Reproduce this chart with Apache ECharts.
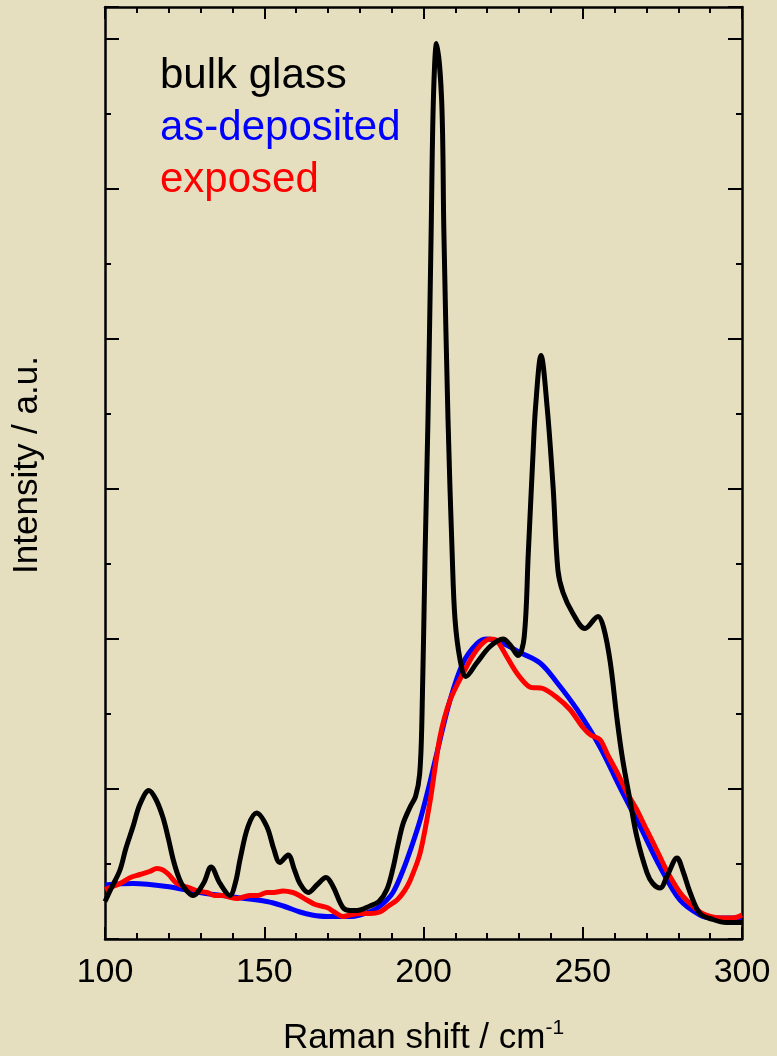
<!DOCTYPE html>
<html>
<head>
<meta charset="utf-8">
<script src="https://cdn.jsdelivr.net/npm/echarts@6/dist/echarts.min.js"></script>
<style>
html,body{margin:0;padding:0;background:#e6dfbf;}
#chart{width:777px;height:1056px;}
</style>
</head>
<body>
<div id="chart"></div>
<script>
// Raman shift (cm^-1) / intensity (a.u., arbitrary units) pairs
const bulkX = [100,102,104.7,106.5,108.8,111,113.8,116,118.2,120,121.4,123,124.6,127.6,130.9,133.3,136.1,139.2,141,142.4,144.9,147.6,150.8,153,154.9,157.5,159.5,161.2,163.8,166.5,169.4,171.6,174.7,177,179.1,183.2,186,188.5,190.4,192,193.6,195.8,197.5,198.8,199.5,200.5,201.4,202.4,203.1,204.1,205.7,206.4,207.7,209,209.9,211.5,213.3,216.7,220.9,225,227.2,229.7,231.6,232.9,234.4,235.2,236.9,238.8,240.7,242.2,243.8,246.9,250.7,254.8,256.5,258.6,260.8,262.5,264.8,267,270.2,272,274.3,276.5,279.6,281.5,283.7,286.8,290.9,295,300];
const bulkY = [0.25,0.34,0.46,0.6,0.75,0.9,0.99,0.93,0.81,0.66,0.53,0.42,0.35,0.29,0.37,0.48,0.37,0.29,0.38,0.53,0.75,0.84,0.75,0.6,0.51,0.56,0.46,0.37,0.31,0.36,0.41,0.35,0.21,0.19,0.19,0.22,0.25,0.33,0.47,0.63,0.77,0.88,0.95,1.1,1.46,2.57,3.46,4.71,5.59,5.97,5.59,4.71,3.46,2.57,2.13,1.86,1.75,1.84,1.95,2.0,1.96,1.89,2.01,2.57,3.24,3.55,3.89,3.55,3.01,2.46,2.31,2.17,2.07,2.15,2.08,1.85,1.46,1.2,0.93,0.68,0.44,0.37,0.34,0.42,0.54,0.45,0.31,0.17,0.13,0.11,0.11];

const depX = [100,108.8,119.5,129.8,140.2,150.8,156,161.2,165,169.7,176.9,180,184.1,187,190.4,193.6,196,198.9,201.5,204.2,208.3,212.4,216.8,219.9,225,230.3,236.6,241.9,248.2,255.4,261.7,268,274.3,280.5,286.8,290.9,300];
const depY = [0.36,0.37,0.35,0.31,0.28,0.25,0.22,0.18,0.16,0.15,0.15,0.16,0.19,0.23,0.31,0.46,0.6,0.79,1.0,1.24,1.59,1.84,1.97,2.0,1.97,1.91,1.84,1.71,1.53,1.28,1.01,0.75,0.48,0.26,0.16,0.14,0.14];

const expX = [100,104.7,108,111,114,116.3,118.2,120,122.6,126.7,129,132,134.5,137.1,139,141.4,143.5,145.5,148,150.8,153,155.9,159,161,163.4,166,169.7,172,174.7,177,180.1,183.2,186.3,189,191.7,194,195.8,198.9,202,205.2,208.3,212.4,216.8,220.9,223,226.2,229.4,233.4,237.5,241.9,246,250.1,252.5,255.4,258,260.8,264,267,270,273.3,276.5,280.5,283.5,286.8,290,293.1,297.2,300];
const expY = [0.33,0.37,0.41,0.43,0.45,0.47,0.46,0.43,0.37,0.34,0.32,0.31,0.29,0.29,0.28,0.27,0.28,0.29,0.29,0.31,0.31,0.32,0.31,0.29,0.26,0.23,0.21,0.18,0.15,0.16,0.17,0.17,0.18,0.22,0.26,0.32,0.39,0.57,0.91,1.35,1.59,1.77,1.93,2.0,1.99,1.88,1.77,1.68,1.67,1.61,1.53,1.41,1.36,1.33,1.22,1.11,0.97,0.86,0.73,0.59,0.45,0.31,0.24,0.18,0.15,0.14,0.14,0.16];

const seriesNames = ['bulk glass','as-deposited','exposed'];
const seriesColors = ['#000000','#0000ff','#ff0000'];
const xTicks = [100,150,200,250,300];

const zip = (xs, ys) => xs.map((x, i) => [x, ys[i]]);

const chart = echarts.init(document.getElementById('chart'), null, {renderer:'canvas'});
const FONT = 'Liberation Sans, Arial, sans-serif';
const yMax = 6.213;

const baseY = (pos, interval, len, show) => ({
  type:'value', position:pos, min:0, max:yMax, interval:interval,
  axisLine:{show:show, onZero:false, lineStyle:{color:'#000', width:2.5}},
  axisTick:{show:true, inside:true, length:len, lineStyle:{color:'#000', width:2}},
  axisLabel:{show:false}, splitLine:{show:false}
});

chart.setOption({
  backgroundColor:'#e6dfbf',
  animation:false,
  grid:{left:105, right:35, top:7, bottom:117, containLabel:false, outerBoundsMode:'none'},
  legend:{
    orient:'vertical', left:155, top:51, padding:0, itemGap:2,
    icon:'none', itemWidth:0, itemHeight:0, selectedMode:false,
    textStyle:{fontFamily:FONT, fontSize:42, lineHeight:50},
    data:seriesNames.map((n,i)=>({name:n, textStyle:{color:seriesColors[i], fontFamily:FONT, fontSize:42, lineHeight:50}}))
  },
  xAxis:[
    {type:'value', position:'bottom', min:100, max:300, interval:50,
     name:'Raman shift / cm{sup|-1}', nameLocation:'middle', nameGap:79,
     nameTextStyle:{fontFamily:FONT, fontSize:35, color:'#000',
       rich:{sup:{fontFamily:FONT, fontSize:21, verticalAlign:'top', padding:[0,0,20,0]}}},
     axisLine:{onZero:false, lineStyle:{color:'#000', width:2.5}},
     axisTick:{inside:true, length:12, lineStyle:{color:'#000', width:2}},
     minorTick:{show:true, splitNumber:5, length:6, lineStyle:{color:'#000', width:2}},
     axisLabel:{fontFamily:FONT, fontSize:34, color:'#000', margin:17,
       formatter:(v)=> xTicks.includes(v) ? String(v) : ''},
     splitLine:{show:false}},
    {type:'value', position:'top', min:100, max:300, interval:50,
     axisLine:{onZero:false, lineStyle:{color:'#000', width:2.5}},
     axisTick:{inside:true, length:12, lineStyle:{color:'#000', width:2}},
     minorTick:{show:true, splitNumber:5, length:6, lineStyle:{color:'#000', width:2}},
     axisLabel:{show:false}, splitLine:{show:false}}
  ],
  yAxis:[
    Object.assign(baseY('left', 1, 14, true), {
      name:'Intensity / a.u.', nameLocation:'middle', nameGap:60, nameRotate:90,
      nameTextStyle:{fontFamily:FONT, fontSize:35, color:'#000', padding:[0,0,0,16]}}),
    baseY('left', 0.5, 6, false),
    baseY('right', 1, 14, true),
    baseY('right', 0.5, 6, false)
  ],
  series:[
    {name:seriesNames[1], type:'line', data:zip(depX, depY), showSymbol:false, smooth:0.35,
     lineStyle:{color:seriesColors[1], width:5}, itemStyle:{color:seriesColors[1]}, z:2},
    {name:seriesNames[2], type:'line', data:zip(expX, expY), showSymbol:false, smooth:0.3,
     lineStyle:{color:seriesColors[2], width:5}, itemStyle:{color:seriesColors[2]}, z:3},
    {name:seriesNames[0], type:'line', data:zip(bulkX, bulkY), showSymbol:false, smooth:0.35,
     lineStyle:{color:seriesColors[0], width:5}, itemStyle:{color:seriesColors[0]}, z:4}
  ]
});
</script>
</body>
</html>
